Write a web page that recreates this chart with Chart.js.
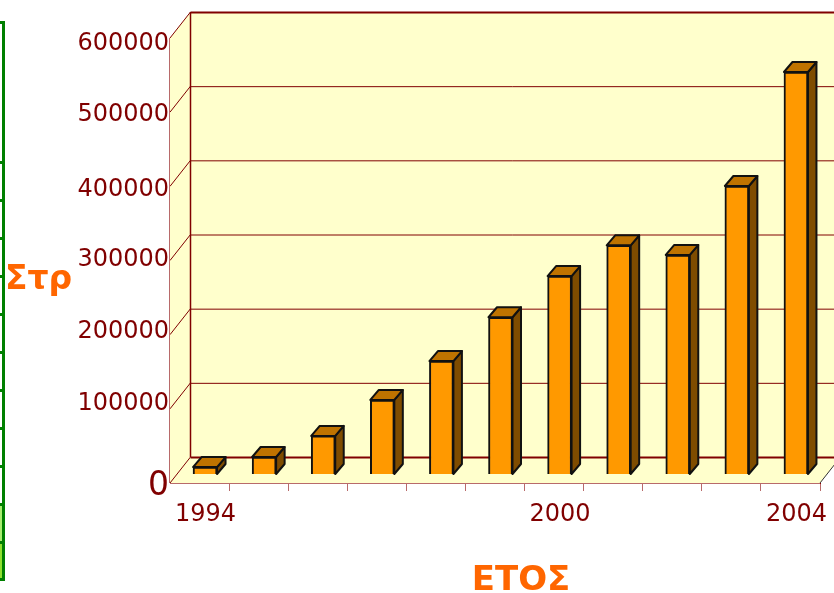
<!DOCTYPE html>
<html>
<head>
<meta charset="utf-8">
<style>
  html, body { margin: 0; padding: 0; background: #fff; overflow: hidden; }
  #wrap { position: relative; width: 834px; height: 593px; }
</style>
<script src="https://cdn.jsdelivr.net/npm/chart.js@4/dist/chart.umd.min.js"></script>
</head>
<body>
<div id="wrap"><canvas id="chart" width="834" height="593"></canvas></div>
<script>
const years = ["1994","1995","1996","1997","1998","1999","2000","2001","2002","2003","2004"];
const shownYears = ["1994","2000","2004"];
const values = [10000,23600,52000,100500,153000,212000,267600,309000,296000,389000,542700];
const yTicks = [0,100000,200000,300000,400000,500000,600000];
const xTitle = "ΕΤΟΣ";
const yTitle = "Στρ";

const RED = "#800000";
const PALE_RED = "#B86A6A";
const WALL = "#FFFFCC";
const FONT = "'DejaVu Sans', Verdana, sans-serif";

// the labels in the picture are a bit tighter than the gridlines
const labelNudge = { 0: 3, 100000: -5, 200000: -3, 300000: -1, 400000: 3, 500000: 3, 600000: 6 };
const WALL_DX = 20.5, WALL_DY = -26;   // front plane -> back wall
const BAR_DX = 5.5, BAR_DY = -8.5;     // front plane -> bar plane
const DEPTH_X = 8.5, DEPTH_Y = -10;    // bar box depth

function poly(ctx, pts, fill, stroke, lw) {
  ctx.beginPath();
  pts.forEach((p, i) => i ? ctx.lineTo(p[0], p[1]) : ctx.moveTo(p[0], p[1]));
  ctx.closePath();
  if (fill) { ctx.fillStyle = fill; ctx.fill(); }
  if (stroke) { ctx.strokeStyle = stroke; ctx.lineWidth = lw; ctx.lineJoin = "round"; ctx.stroke(); }
}

function seg(ctx, x0, y0, x1, y1, color, lw) {
  ctx.beginPath(); ctx.moveTo(x0, y0); ctx.lineTo(x1, y1);
  ctx.strokeStyle = color; ctx.lineWidth = lw; ctx.stroke();
}

// left edge strip, what is left of the neighbouring green box
const stripPlugin = {
  id: "strip",
  beforeDraw(chart) {
    const { ctx } = chart;
    ctx.save();
    ctx.fillStyle = "#A8EE70"; ctx.fillRect(0, 505, 2, 36);
    ctx.fillStyle = "#8FE030"; ctx.fillRect(0, 543, 2, 36);
    ctx.fillStyle = "#008000";
    ctx.fillRect(2, 21, 3, 560);
    ctx.fillRect(0, 21, 4, 3);
    ctx.fillRect(0, 578, 4, 3);
    for (let y = 162; y < 560; y += 38) ctx.fillRect(0, y - 1, 3, 3);
    ctx.restore();
  }
};

const box3dPlugin = {
  id: "box3d",
  beforeDatasetsDraw(chart) {
    const { ctx, chartArea: a, scales: { y } } = chart;
    const l = a.left, r = a.right, t = a.top, b = a.bottom;
    ctx.save();
    // walls and floor
    poly(ctx, [[l, t], [l + WALL_DX, t + WALL_DY], [r + WALL_DX, t + WALL_DY], [r + WALL_DX, b + WALL_DY], [l + WALL_DX, b + WALL_DY]], WALL);
    poly(ctx, [[l, t], [l + WALL_DX, t + WALL_DY], [l + WALL_DX, b + WALL_DY], [l, b]], WALL);
    poly(ctx, [[l, b], [l + WALL_DX, b + WALL_DY], [r + WALL_DX, b + WALL_DY], [r, b]], WALL);
    // gridlines on both walls
    yTicks.forEach((v) => {
      const py = y.getPixelForValue(v);
      const edge = v === 0 || v === yTicks[yTicks.length - 1];
      seg(ctx, l + WALL_DX, py + WALL_DY + 0.5, r + WALL_DX, py + WALL_DY + 0.5, RED, edge ? 2 : 1);
      seg(ctx, l, py, l + WALL_DX, py + WALL_DY, RED, 1);
    });
    seg(ctx, l + WALL_DX, t + WALL_DY, l + WALL_DX, b + WALL_DY, RED, 1.5);
    seg(ctx, l - 0.5, t, l - 0.5, b, PALE_RED, 1);
    seg(ctx, l, b + 0.5, r, b + 0.5, PALE_RED, 1);
    seg(ctx, r, b, r + WALL_DX, b + WALL_DY, "#333", 1);
    // shift the bars back onto their own plane; restored after the datasets
    ctx.translate(BAR_DX, BAR_DY);
    chart.getDatasetMeta(0).data.forEach((bar) => {
      const x0 = bar.x - bar.width / 2, x1 = bar.x + bar.width / 2;
      const top = bar.y, base = bar.base;
      poly(ctx, [[x1, top], [x1 + DEPTH_X, top + DEPTH_Y], [x1 + DEPTH_X, base + DEPTH_Y], [x1, base]], "#7F4C00", "#111", 2);
      poly(ctx, [[x0, top], [x0 + DEPTH_X, top + DEPTH_Y], [x1 + DEPTH_X, top + DEPTH_Y], [x1, top]], "#BF7300", "#111", 2);
    });
  },
  afterDatasetsDraw(chart) { chart.ctx.restore(); },
  afterDraw(chart) {
    const { ctx } = chart;
    ctx.save();
    ctx.fillStyle = "#FF6600";
    ctx.font = `bold 34px ${FONT}`;
    ctx.textAlign = "center";
    ctx.textBaseline = "middle";
    ctx.fillText(xTitle, 521, 581);
    ctx.font = `bold 33px ${FONT}`;
    ctx.fillText(yTitle, 38.5, 280);
    ctx.restore();
  }
};

new Chart(document.getElementById("chart").getContext("2d"), {
  type: "bar",
  data: {
    labels: years,
    datasets: [{
      data: values,
      backgroundColor: "#FF9900",
      borderColor: "#111",
      borderWidth: 2,
      barThickness: 24,
      clip: false
    }]
  },
  options: {
    responsive: false,
    animation: false,
    layout: { padding: { top: 38, right: 14, left: 0, bottom: 0 } },
    plugins: { legend: { display: false }, title: { display: false }, tooltip: { enabled: false } },
    scales: {
      x: {
        offset: true,
        afterFit(scale) { scale.height = 110; },
        grid: {
          offset: true,
          drawOnChartArea: false,
          tickLength: 8,
          tickColor: (c) => c.index === 0 ? "transparent" : PALE_RED,
          lineWidth: 1
        },
        border: { color: RED, width: 1 },
        ticks: {
          autoSkip: false,
          maxRotation: 0,
          padding: 9,
          labelOffset: BAR_DX + 0.5,
          color: RED,
          font: { family: FONT, size: 24 },
          callback(v) {
            const s = this.getLabelForValue(v);
            return shownYears.includes(s) ? s : "";
          }
        }
      },
      y: {
        min: 0,
        max: 600000,
        afterFit(scale) { scale.width = 170; },
        afterBuildTicks(scale) {
          scale.ticks = yTicks.map((v) => ({ value: v }));
          if (!scale.$nudged) {
            const orig = scale.getPixelForTick.bind(scale);
            scale.getPixelForTick = (i) => orig(i) + (labelNudge[scale.ticks[i].value] || 0);
            scale.$nudged = true;
          }
        },
        grid: { drawOnChartArea: false, tickLength: 3, tickColor: "transparent" },
        border: { color: PALE_RED, width: 1 },
        ticks: {
          padding: -2,
          color: RED,
          callback: (v) => String(v),
          font: (c) => ({ family: FONT, size: c.tick && c.tick.value === 0 ? 33 : 24 })
        }
      }
    }
  },
  plugins: [stripPlugin, box3dPlugin]
});
</script>
</body>
</html>
